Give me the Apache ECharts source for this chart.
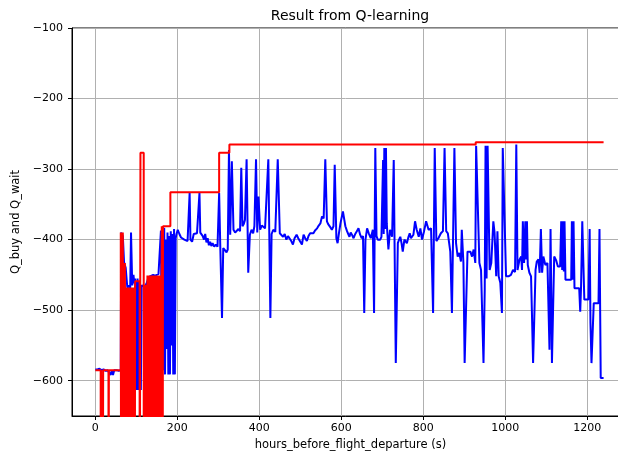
<!DOCTYPE html>
<html>
<head>
<meta charset="utf-8">
<script src="https://cdn.jsdelivr.net/npm/echarts@6/dist/echarts.min.js"></script>
<style>html,body{margin:0;padding:0;background:#fff;}#c{width:618px;height:454px;}</style>
</head>
<body>
<div id="c"></div>
<script>
// Tick values
const xTicks = [0, 200, 400, 600, 800, 1000, 1200];
const yTicks = [-600, -500, -400, -300, -200, -100];

// Q_wait (blue) samples: hours and value
const blueX = [0,5,10,15,20,25,30,34,37,40,43,46,52,57,62,
63,67,70,74,78,82,85,87,90,93,95,97,98,100,101,103,104,106,107,109,111,113,117,121,125,129,133,137,141,146,150,154,158,
160,162,164,166,168,170,172,174,176,178,180,182,184,186,188,190,192,194,196,198,
201,205,209,213,217,221,225,228,230,232,236,240,244,248,251,254,256,259,262,265,268,271,274,277,280,283,286,290,294,298,302,305,309,312,316,320,323,326,329,333,337,341,345,349,353,356,359,362,365,369,373,377,381,385,388,392,395,398,402,406,410,414,418,422,427,430,434,439,445,450,454,458,462,466,470,474,478,482,486,491,495,499,504,508,512,516,520,524,528,532,536,541,545,549,553,557,561,565,568,571,574,577,581,584,588,591,594,598,604,610,614,617,620,623,626,630,634,638,642,646,650,653,656,659,663,667,672,677,680,683,686,689,692,695,698,702,703.5,705,707,709,711,715,719,724,728,730,733,736,738,741,744,747,750,754,757,760,764,767,770,773,776,780,784,789,793,797,802,807,813,819,824,828,832,837,843,848,852,856,860,866,870,876,880,884,888,892,894,898,901,905,908,915,919,923,927,929,932,937,941,945,947,950,952,954.5,957,959.5,962,966,971,974,978,981,984,988,992,994,998,1002,1008,1014,1019,1024,1027,1030,1035,1039,1041,1043,1046,1049,1051,1053,1055,1059,1063,1065,1068,1071,1074,1077,1081,1084,1087,1090,1093,1098,1103,1108,1110.6,1114,1118,1119.5,1124,1128.5,1134,1136.6,1139,1140.7,1143,1144.7,1147,1161,1162.6,1165,1166.7,1169,1180.5,1183,1185,1188,1191,1193,1203,1206,1208,1210.5,1214,1216,1227.6,1230,1233,1240];
const blueY = [-584,-584,-583,-585,-584,-586,-585,-587,-592,-586,-592,-585,-585,-586,-585,
-390,-395,-432,-440,-468,-465,-470,-390,-465,-450,-462,-455,-613,-460,-613,-455,-613,-460,-613,-462,-613,-465,-463,-466,-462,-455,-452,-453,-450,-451,-450,-449,-450,
-387,-590,-392,-585,-383,-591,-400,-555,-390,-591,-395,-591,-388,-550,-392,-591,-385,-591,-398,-392,
-386,-392,-397,-395,-400,-398,-402,-400,-334,-400,-403,-392,-392,-391,-393,-334,-390,-392,-395,-400,-392,-404,-398,-408,-403,-409,-405,-410,-407,-410,-334,-415,-511,-412,-415,-418,-414,-273,-393,-289,-386,-390,-391,-385,-388,-298,-381,-378,-372,-286,-447,-393,-386,-391,-381,-286,-390,-339,-386,-380,-379,-384,-386,-286,-511,-392,-386,-389,-286,-391,-393,-396,-392,-400,-395,-396,-402,-407,-398,-393,-398,-396,-407,-393,-398,-402,-395,-391,-393,-391,-387,-384,-380,-377,-367,-370,-286,-374,-378,-379,-383,-386,-381,-294,-398,-405,-392,-377,-360,-381,-388,-392,-396,-390,-393,-398,-392,-388,-384,-393,-398,-395,-504,-400,-384,-391,-398,-386,-504,-270,-395,-400,-398,-400,-396,-287,-392,-270,-385,-270,-377,-414,-386,-396,-287,-405,-575,-575,-405,-400,-396,-405,-417,-400,-402,-405,-396,-391,-398,-400,-393,-374,-386,-396,-384,-400,-388,-374,-386,-384,-504,-270,-402,-398,-391,-388,-270,-388,-391,-417,-504,-270,-405,-424,-419,-431,-386,-433,-575,-575,-417,-417,-424,-414,-433,-267,-267,-433,-443,-443,-575,-471,-267,-455,-267,-267,-443,-433,-374,-390,-452,-388,-452,-461,-504,-270,-270,-452,-452,-450,-443,-446,-265,-443,-428,-424,-443,-374,-433,-374,-428,-374,-436,-447,-452,-500,-575,-575,-443,-431,-428,-447,-385,-447,-424,-436,-433,-556,-385,-575,-575,-424,-429,-438,-438,-374,-443,-374,-445,-374,-457,-457,-374,-457,-374,-469,-469,-502,-467,-374,-374,-485,-485,-385,-518,-575,-575,-490,-490,-385,-596,-596];

// Q_buy (red) samples: value holds until next sample; -1000 = far below view
const redX = [0,13,14,18,19,32,33,62,63,64,66,67,68,69,71,72,76,77,80,81,84,85,88,89,92,93,96,97,108,110,118,119,120,122,123,125,126,127,128,129,131,132,134,135,137,138,140,141,143,144,146,147,149,150,152,153,155,156,158,159,161,162,164,165,183,302,327,928,1240];
const redY = [-585,-1000,-585,-1000,-585,-1000,-585,-390,-1000,-390,-1000,-390,-1000,-433,-1000,-433,-1000,-468,-1000,-468,-1000,-468,-1000,-468,-1000,-468,-1000,-459,-1000,-277,-1000,-464,-1000,-464,-1000,-464,-1000,-451,-1000,-451,-1000,-451,-1000,-451,-1000,-451,-1000,-451,-1000,-451,-1000,-451,-1000,-451,-1000,-451,-1000,-451,-1000,-451,-1000,-381,-1000,-381,-333,-277,-265,-262,-262];

const blueData = blueX.map((x, i) => [x, blueY[i]]);
const redData = redX.map((x, i) => [x, redY[i]]);

const FONT = 'DejaVu Sans';
const minus = v => (v < 0 ? '\u2212' + Math.abs(v) : String(v));

const chart = echarts.init(document.getElementById('c'), null, {renderer: 'canvas'});
chart.setOption({
  animation: false,
  backgroundColor: '#fff',
  title: {
    text: 'Result from Q-learning',
    left: 350, top: 9, padding: 0, textAlign: 'center',
    textStyle: {fontFamily: FONT, fontSize: 14, fontWeight: 'normal', color: '#000'}
  },
  grid: {left: 72, top: 28, right: -11, bottom: 38, outerBoundsMode: 'none', containLabel: false,
         show: true, borderColor: '#000', borderWidth: 1, backgroundColor: 'transparent'},
  xAxis: {
    type: 'value', min: -57, max: 1302,
    name: 'hours_before_flight_departure (s)', nameLocation: 'middle', nameGap: 21,
    nameTextStyle: {fontFamily: FONT, fontSize: 11.5, color: '#000'},
    axisLine: {show: true, onZero: false, lineStyle: {color: '#000', width: 1}},
    axisTick: {show: true, customValues: xTicks, length: 4, lineStyle: {color: '#000'}},
    axisLabel: {customValues: xTicks, fontFamily: FONT, fontSize: 11, color: '#000', margin: 7, formatter: minus},
    splitLine: {show: true, lineStyle: {color: '#b0b0b0', width: 1}}
  },
  yAxis: {
    type: 'value', min: -650, max: -100,
    name: 'Q_buy and Q_wait', nameLocation: 'middle', nameGap: 49,
    nameTextStyle: {fontFamily: FONT, fontSize: 11.5, color: '#000'},
    axisLine: {show: true, onZero: false, lineStyle: {color: '#000', width: 1}},
    axisTick: {show: true, customValues: yTicks, length: 4, lineStyle: {color: '#000'}},
    axisLabel: {customValues: yTicks, fontFamily: FONT, fontSize: 11, color: '#000', margin: 9, formatter: minus},
    splitLine: {show: true, lineStyle: {color: '#b0b0b0', width: 1}}
  },
  series: [
    {type: 'line', data: blueData, showSymbol: false, symbol: 'none', clip: true,
     lineStyle: {color: '#0000ff', width: 2}, itemStyle: {color: '#0000ff'}, z: 2},
    {type: 'line', data: redData, step: 'end', showSymbol: false, symbol: 'none', clip: true,
     lineStyle: {color: '#ff0000', width: 2}, itemStyle: {color: '#ff0000'}, z: 3}
  ]
});
</script>
</body>
</html>
